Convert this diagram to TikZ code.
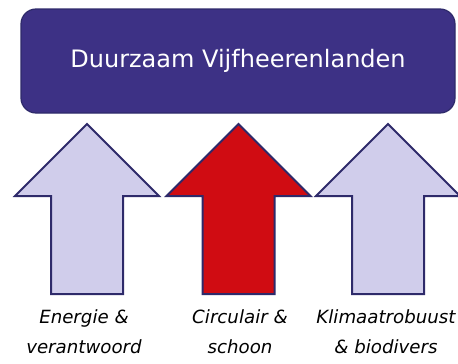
\documentclass[tikz,border=0pt]{standalone}
\usepackage{fontspec}
\setmainfont{DejaVu Sans}
\usetikzlibrary{positioning}

\definecolor{boxpaars}{HTML}{3D3185}
\definecolor{randpaars}{HTML}{2E2A6A}
\definecolor{lichtpaars}{HTML}{D0CDEB}
\definecolor{pijlrood}{HTML}{D00C12}

\tikzset{
	kop/.style={draw=randpaars,fill=boxpaars,line width=1.2pt,rounded corners=15pt,
		minimum width=434pt,minimum height=104pt,text=white,font=\fontsize{24}{28}\selectfont},
	pijl/.style={draw=randpaars,line width=2pt,line join=miter},
	thema/.style={align=center,font=\fontsize{18.2}{30}\selectfont\itshape}
}

\begin{document}
\begin{tikzpicture}[x=1pt,y=-1pt]
	\useasboundingbox (0,0) rectangle (458,364);

	\node[kop] (titel) at (238,61) {Duurzaam Vijfheerenlanden};

	% drie pijlen omhoog
	\draw[pijl,fill=lichtpaars] (87,124) -- ++(72,72) -- ++(-36,0) -- ++(0,98)
		-- ++(-72,0) -- ++(0,-98) -- ++(-36,0) -- cycle;
	\draw[pijl,fill=pijlrood] (238.5,124) -- ++(72,72) -- ++(-36,0) -- ++(0,98)
		-- ++(-72,0) -- ++(0,-98) -- ++(-36,0) -- cycle;
	\draw[pijl,fill=lichtpaars] (388,124) -- ++(72,72) -- ++(-36,0) -- ++(0,98)
		-- ++(-72,0) -- ++(0,-98) -- ++(-36,0) -- cycle;

	\node[thema] (energie) at (84,332) {Energie \&\\verantwoord};
	\node[thema] (circulair) at (240,332) {Circulair \&\\schoon};
	\node[thema] (klimaat) at (386,332) {Klimaatrobuust\\\& biodivers};
\end{tikzpicture}
\end{document}
